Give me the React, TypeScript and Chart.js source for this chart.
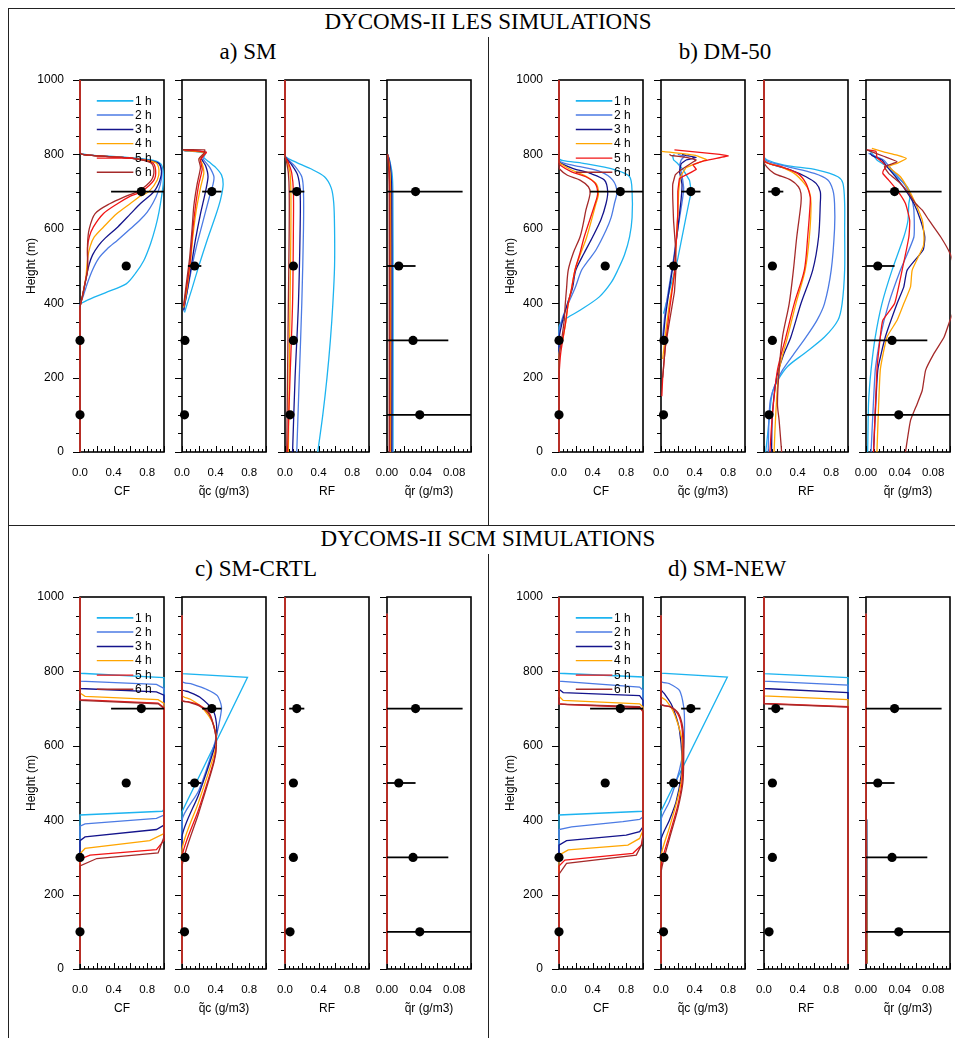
import React, { useEffect, useRef } from 'react';
import { Chart, registerables } from 'chart.js';

Chart.register(...registerables);

type Pt = [number, number]; // [value, height in m]

// ---------------------------------------------------------------- data
const HOUR_LABELS = ['1 h', '2 h', '3 h', '4 h', '5 h', '6 h'];
const Y_TICKS = [0, 200, 400, 600, 800, 1000];
const X_TICKS_UNIT = [0, 0.4, 0.8];
const X_TICKS_QR = [0, 0.04, 0.08];

// observations (mean and spread) at four levels
const OBS_HEIGHTS = [700, 500, 300, 100];
const OBS_CF = [0.73, 0.55, 0, 0];
const OBS_CF_SD = [0.36, 0, 0, 0];
const OBS_QC = [0.355, 0.15, 0.035, 0.03];
const OBS_QC_SD = [0.115, 0.08, 0, 0];
const OBS_RF = [0.14, 0.1, 0.1, 0.06];
const OBS_RF_SD = [0.09, 0, 0, 0];
const OBS_QR = [0.034, 0.014, 0.031, 0.039];
const OBS_QR_SD = [0.056, 0.02, 0.042, 0.066];

// LES, SM microphysics
const LES_SM_CF: Pt[][] = [
  [[0,0],[0,395],[0.06,405],[0.3,428],[0.55,452],[0.66,480],[0.76,515],[0.84,560],[0.9,605],[0.94,645],[0.97,685],[0.99,720],[0.99,755],[0.96,775],[0.85,785],[0.5,793],[0.1,799],[0,806],[0,1000]],
  [[0,0],[0,392],[0.04,420],[0.09,455],[0.15,490],[0.22,520],[0.32,545],[0.45,570],[0.6,600],[0.72,625],[0.8,645],[0.87,670],[0.93,700],[0.97,735],[0.97,760],[0.92,778],[0.6,790],[0.1,798],[0,805],[0,1000]],
  [[0,0],[0,388],[0.03,420],[0.07,465],[0.11,505],[0.15,530],[0.22,555],[0.3,575],[0.45,605],[0.6,640],[0.72,668],[0.88,700],[0.95,730],[0.97,755],[0.93,777],[0.6,790],[0.1,798],[0,805],[0,1000]],
  [[0,0],[0,385],[0.03,420],[0.07,470],[0.09,520],[0.12,552],[0.17,578],[0.28,605],[0.44,641],[0.6,668],[0.72,688],[0.82,700],[0.92,731],[0.94,758],[0.9,778],[0.6,790],[0.1,798],[0,805],[0,1000]],
  [[0,0],[0,385],[0.03,420],[0.07,465],[0.09,490],[0.09,550],[0.11,578],[0.16,605],[0.28,641],[0.45,668],[0.6,688],[0.73,700],[0.88,731],[0.9,758],[0.86,778],[0.6,790],[0.1,798],[0,805],[0,1000]],
  [[0,0],[0,385],[0.03,420],[0.07,465],[0.09,490],[0.09,560],[0.11,600],[0.18,641],[0.36,668],[0.55,688],[0.7,702],[0.85,731],[0.88,758],[0.84,778],[0.6,790],[0.1,798],[0,805],[0,1000]],
];
const LES_SM_QC: Pt[][] = [
  [[0.03,375],[0.12,440],[0.2,500],[0.3,570],[0.4,635],[0.46,680],[0.49,720],[0.47,745],[0.4,765],[0.32,780],[0.26,792],[0.28,803],[0.02,810]],
  [[0.02,378],[0.06,430],[0.12,500],[0.18,560],[0.25,620],[0.32,680],[0.37,720],[0.38,740],[0.33,765],[0.26,785],[0.25,795],[0.28,806],[0.02,811]],
  [[0.02,382],[0.06,430],[0.11,500],[0.16,570],[0.22,640],[0.28,700],[0.31,740],[0.28,770],[0.23,790],[0.27,806],[0.02,811]],
  [[0.02,388],[0.06,440],[0.1,510],[0.13,580],[0.17,650],[0.22,710],[0.26,750],[0.24,775],[0.21,790],[0.27,805],[0.02,811]],
  [[0.02,392],[0.06,450],[0.1,520],[0.13,600],[0.16,660],[0.2,720],[0.24,760],[0.22,785],[0.27,800],[0.29,806],[0.02,812]],
  [[0.02,395],[0.05,450],[0.09,520],[0.12,600],[0.14,660],[0.18,720],[0.22,765],[0.2,788],[0.26,803],[0.27,812],[0.01,813]],
];
const LES_SM_RF: Pt[][] = [
  [[0.39,0],[0.45,100],[0.5,200],[0.54,300],[0.57,400],[0.59,500],[0.59,600],[0.58,670],[0.55,710],[0.47,740],[0.3,762],[0.14,778],[0.03,790],[0,797],[0,1000]],
  [[0.14,0],[0.17,200],[0.2,400],[0.22,600],[0.22,700],[0.2,740],[0.12,768],[0.03,788],[0,797],[0,1000]],
  [[0.09,0],[0.12,200],[0.16,400],[0.18,600],[0.18,700],[0.15,745],[0.08,772],[0.02,788],[0,797],[0,1000]],
  [[0.04,0],[0.05,200],[0.06,400],[0.07,600],[0.07,700],[0.06,750],[0.03,778],[0,797],[0,1000]],
  [[0.03,0],[0.06,200],[0.09,400],[0.1,600],[0.1,700],[0.08,750],[0.04,778],[0,797],[0,1000]],
  [[0.02,0],[0.03,200],[0.04,400],[0.05,600],[0.05,700],[0.04,750],[0.02,778],[0,797],[0,1000]],
];
const LES_SM_QR: Pt[][] = [
  [[0.0072,0],[0.0073,400],[0.007,700],[0.006,750],[0.003,785],[0.0008,800]],
  [[0.0062,0],[0.0064,400],[0.006,700],[0.005,750],[0.0028,785],[0.0008,800]],
  [[0.0056,0],[0.0058,400],[0.0055,700],[0.0046,750],[0.0026,785],[0.0008,800]],
  [[0.0042,0],[0.0044,400],[0.0042,700],[0.0036,750],[0.002,785],[0.0006,800]],
  [[0.0032,0],[0.0034,400],[0.0032,700],[0.0028,750],[0.0016,785],[0.0005,800]],
  [[0.0026,0],[0.0027,400],[0.0026,700],[0.0022,750],[0.0013,785],[0.0004,800]],
];

// LES, DM-50 microphysics
const LES_DM_CF: Pt[][] = [
  [[0,0],[0,335],[0.06,355],[0.25,381],[0.48,417],[0.62,455],[0.7,489],[0.78,530],[0.84,578],[0.87,630],[0.87,700],[0.84,740],[0.68,758],[0.29,776],[0.05,783],[0,790],[0,1000]],
  [[0,0],[0,320],[0.04,360],[0.11,399],[0.19,440],[0.27,489],[0.35,515],[0.44,543],[0.56,596],[0.62,630],[0.66,668],[0.69,700],[0.64,731],[0.5,753],[0.25,767],[0.07,776],[0,785],[0,1000]],
  [[0,0],[0,300],[0.04,350],[0.1,399],[0.16,440],[0.2,489],[0.3,535],[0.4,578],[0.5,625],[0.56,668],[0.58,700],[0.54,731],[0.37,749],[0.17,762],[0.03,775],[0,782],[0,1000]],
  [[0,0],[0,260],[0.05,309],[0.08,350],[0.11,399],[0.15,440],[0.19,489],[0.26,535],[0.33,578],[0.44,668],[0.47,695],[0.44,722],[0.3,744],[0.15,758],[0.02,775],[0,780],[0,1000]],
  [[0,0],[0,200],[0.01,240],[0.02,265],[0.05,309],[0.08,350],[0.11,399],[0.15,440],[0.19,489],[0.25,535],[0.3,578],[0.43,668],[0.46,695],[0.43,722],[0.32,740],[0.15,753],[0.02,770],[0,778],[0,1000]],
  [[0,0],[0,250],[0.03,300],[0.06,350],[0.075,399],[0.09,440],[0.11,489],[0.17,535],[0.25,578],[0.29,615],[0.32,650],[0.37,695],[0.35,713],[0.25,731],[0.1,744],[0.01,760],[0,770],[0,1000]],
];
const LES_DM_QC: Pt[][] = [
  [[0.03,372],[0.12,450],[0.2,520],[0.27,600],[0.33,668],[0.36,700],[0.34,730],[0.26,760],[0.2,775],[0.15,785],[0.14,795],[0.16,800]],
  [[0.02,310],[0.05,380],[0.1,450],[0.15,520],[0.2,600],[0.25,670],[0.27,710],[0.25,745],[0.22,770],[0.24,785],[0.28,795],[0.2,800]],
  [[0.02,290],[0.05,360],[0.1,440],[0.15,510],[0.2,600],[0.24,680],[0.25,720],[0.22,755],[0.24,775],[0.3,785],[0.42,792],[0.3,797],[0.25,800]],
  [[0.02,250],[0.06,330],[0.1,400],[0.16,480],[0.18,560],[0.2,640],[0.21,700],[0.23,740],[0.3,765],[0.54,786],[0.42,797],[0.1,806],[0.01,808]],
  [[0.01,150],[0.02,200],[0.05,280],[0.1,380],[0.16,480],[0.18,560],[0.2,640],[0.2,700],[0.22,735],[0.3,745],[0.42,760],[0.38,772],[0.5,782],[0.8,796],[0.7,800],[0.16,812]],
  [[0.02,200],[0.05,280],[0.1,350],[0.16,430],[0.18,500],[0.17,560],[0.15,620],[0.14,680],[0.14,720],[0.17,745],[0.25,760],[0.35,775],[0.42,785],[0.3,792],[0.12,797],[0.1,800]],
];
const LES_DM_RF: Pt[][] = [
  [[0.02,0],[0.04,40],[0.06,85],[0.1,160],[0.17,195],[0.28,230],[0.48,265],[0.72,309],[0.88,354],[0.93,399],[0.96,489],[0.96,600],[0.96,668],[0.94,722],[0.88,740],[0.64,758],[0.24,771],[0.04,785],[0,795],[0,1000]],
  [[0.05,0],[0.07,130],[0.13,180],[0.22,220],[0.36,265],[0.5,309],[0.63,354],[0.72,399],[0.8,489],[0.84,600],[0.84,668],[0.82,704],[0.76,731],[0.6,749],[0.28,767],[0.06,780],[0,790],[0,1000]],
  [[0.09,0],[0.1,100],[0.15,200],[0.23,260],[0.32,309],[0.44,399],[0.58,489],[0.65,578],[0.67,668],[0.67,700],[0.62,722],[0.5,740],[0.32,758],[0.12,771],[0,785],[0,1000]],
  [[0.12,0],[0.14,100],[0.18,220],[0.28,309],[0.38,399],[0.49,489],[0.54,578],[0.56,668],[0.54,700],[0.48,722],[0.36,749],[0.2,767],[0,785],[0,1000]],
  [[0.07,0],[0.1,100],[0.16,220],[0.26,309],[0.36,399],[0.48,489],[0.52,578],[0.55,668],[0.55,686],[0.5,722],[0.4,749],[0.2,767],[0,785],[0,1000]],
  [[0.21,0],[0.18,85],[0.16,130],[0.18,220],[0.22,309],[0.3,399],[0.35,489],[0.39,578],[0.44,668],[0.44,695],[0.41,713],[0.32,731],[0.12,749],[0.03,767],[0,780],[0,1000]],
];
const LES_DM_QR: Pt[][] = [
  [[0.002,0],[0.003,130],[0.006,220],[0.011,309],[0.019,399],[0.031,489],[0.045,578],[0.05,623],[0.051,668],[0.053,695],[0.049,713],[0.037,740],[0.025,767],[0.013,785],[0.007,803],[0.003,812]],
  [[0.006,0],[0.011,220],[0.017,309],[0.027,399],[0.041,489],[0.057,578],[0.057,650],[0.054,686],[0.045,722],[0.031,758],[0.021,785],[0.008,798],[0.003,803]],
  [[0.009,0],[0.014,220],[0.023,309],[0.037,399],[0.045,444],[0.049,489],[0.068,543],[0.07,578],[0.065,623],[0.057,668],[0.047,704],[0.035,740],[0.025,767],[0.019,785],[0.007,797],[0.005,803]],
  [[0.013,0],[0.017,220],[0.025,309],[0.037,354],[0.045,399],[0.053,444],[0.055,489],[0.068,552],[0.069,578],[0.067,623],[0.059,668],[0.051,704],[0.041,740],[0.027,767],[0.037,776],[0.048,789],[0.037,798],[0.021,807],[0.007,816]],
  [[0.009,0],[0.013,220],[0.017,309],[0.02,354],[0.034,399],[0.043,489],[0.051,578],[0.052,623],[0.047,668],[0.037,704],[0.027,731],[0.02,749],[0.021,758],[0.024,767],[0.019,780],[0.013,792],[0.012,808],[0.001,812]],
  [[0.047,0],[0.053,85],[0.061,130],[0.067,166],[0.071,220],[0.081,265],[0.093,309],[0.1,354],[0.108,400],[0.11,450],[0.105,500],[0.1,534],[0.089,578],[0.075,623],[0.067,650],[0.059,668],[0.051,695],[0.041,722],[0.027,749],[0.022,767],[0.037,780],[0.021,795],[0.001,812]],
];

// SCM, SM-CRTL
const SCM_CRTL_CF: Pt[][] = [
  [[0,15],[0,414],[0.98,424],[1,430],[1,783],[0,795],[0,1000]],
  [[0,15],[0,384],[0.06,390],[0.91,405],[1,414],[1,754],[0.91,765],[0,774],[0,1000]],
  [[0,15],[0,345],[0.06,355],[0.91,375],[1,387],[1,736],[0.91,745],[0,754],[0,1000]],
  [[0,15],[0,310],[0.06,324],[0.83,345],[1,364],[1,714],[0.93,724],[0.06,733],[0,742],[0,1000]],
  [[0,15],[0,295],[0.12,306],[0.91,321],[1,346],[1,703],[0.93,715],[0,724],[0,1000]],
  [[0,15],[0,277],[0.2,297],[0.93,312],[1,355],[1,700],[0.93,713],[0,722],[0,1000]],
];
const SCM_CRTL_QC: Pt[][] = [
  [[0,15],[0,423],[0.78,784],[0,794],[0,950]],
  [[0,15],[0,400],[0.2,480],[0.38,600],[0.45,670],[0.47,705],[0.42,735],[0.29,752],[0.12,766],[0,774],[0,950]],
  [[0,15],[0,355],[0.2,470],[0.38,590],[0.41,625],[0.41,660],[0.37,695],[0.21,731],[0.08,745],[0,752],[0,950]],
  [[0,15],[0,320],[0.2,450],[0.38,575],[0.41,615],[0.37,660],[0.23,705],[0.1,725],[0,736],[0,950]],
  [[0,15],[0,300],[0.2,430],[0.38,560],[0.41,606],[0.39,642],[0.33,686],[0.21,709],[0.08,718],[0,722],[0,950]],
  [[0,15],[0,275],[0.2,420],[0.38,555],[0.41,600],[0.39,642],[0.32,686],[0.2,708],[0.07,718],[0,722],[0,950]],
];
const SCM_CRTL_RF: Pt[][] = [
  [[0,15],[0,1000]],
  [[0,15],[0,1000]],
  [[0,15],[0,1000]],
  [[0,15],[0,1000]],
  [[0,15],[0,1000]],
  [[0,15],[0,1000]],
];
const SCM_CRTL_QR: Pt[][] = [
  [[0,15],[0,955]],
  [[0,15],[0,955]],
  [[0,15],[0,955]],
  [[0,15],[0,955]],
  [[0,15],[0,955]],
  [[0,15],[0,955]],
];

// SCM, SM-NEW
const SCM_NEW_CF: Pt[][] = [
  [[0,15],[0,414],[1,424],[1,785],[0,795],[0,1000]],
  [[0,15],[0,375],[0.15,382],[0.76,396],[0.96,402],[1,409],[1,749],[0.96,758],[0,774],[0,1000]],
  [[0,15],[0,333],[0.09,345],[0.8,360],[0.96,369],[1,382],[1,722],[0.96,735],[0.05,743],[0,752],[0,1000]],
  [[0,15],[0,306],[0.11,320],[0.82,333],[0.96,351],[1,373],[1,704],[0.96,713],[0.05,722],[0,733],[0,1000]],
  [[0,15],[0,277],[0.07,293],[0.88,311],[0.98,333],[1,360],[1,691],[0.96,703],[0.09,711],[0,713],[0,1000]],
  [[0,15],[0,255],[0.09,284],[0.92,306],[0.99,337],[1,360],[1,694],[0.96,705],[0,712],[0,1000]],
];
const SCM_NEW_QC: Pt[][] = [
  [[0,15],[0,424],[0.79,785],[0,795],[0,950]],
  [[0,15],[0,400],[0.1,450],[0.22,535],[0.27,597],[0.28,660],[0.27,705],[0.22,749],[0.1,767],[0,774],[0,950]],
  [[0,15],[0,346],[0.1,400],[0.18,450],[0.24,520],[0.25,570],[0.22,642],[0.18,678],[0.12,713],[0.04,740],[0,752],[0,950]],
  [[0,15],[0,302],[0.1,380],[0.2,460],[0.25,520],[0.25,560],[0.25,615],[0.2,660],[0.14,695],[0.06,722],[0,733],[0,950]],
  [[0,15],[0,275],[0.1,360],[0.2,440],[0.25,500],[0.26,560],[0.26,620],[0.24,660],[0.2,686],[0.12,704],[0,713],[0,950]],
  [[0,15],[0,257],[0.1,350],[0.2,430],[0.26,500],[0.27,560],[0.27,620],[0.25,660],[0.2,690],[0.1,706],[0,712],[0,950]],
];
const SCM_NEW_RF: Pt[][] = [
  [[1,15],[1,783],[0,794],[0,1000]],
  [[1,15],[1,763],[0,774],[0,1000]],
  [[1,15],[1,743],[0,754],[0,1000]],
  [[1,15],[1,724],[0,734],[0,1000]],
  [[1,15],[1,705],[0,714],[0,1000]],
  [[1,15],[1,704],[0,713],[0,1000]],
];
const SCM_NEW_QR: Pt[][] = [
  [[0.0016,15],[0.0009,400],[0.0002,705],[0,720],[0,955]],
  [[0.0014,15],[0.0008,400],[0.0002,700],[0,720],[0,955]],
  [[0.0013,15],[0.0007,400],[0.0002,700],[0,715],[0,955]],
  [[0.0012,15],[0.0006,400],[0.0001,700],[0,715],[0,955]],
  [[0.0011,15],[0.0006,400],[0.0001,690],[0,712],[0,955]],
  [[0.0011,15],[0.0005,400],[0.0001,690],[0,712],[0,955]],
];

// ---------------------------------------------------------------- styling / layout
const HOUR_COLORS = ['#1DB4F0', '#4C7BE4', '#14148C', '#FFA500', '#F21414', '#A52A2A'];
const LEGEND_Z = [944, 906, 867, 829, 790, 752];
const SANS = '"Liberation Sans", Arial, Helvetica, sans-serif';
const SERIF = '"Liberation Serif", "Times New Roman", serif';

const PLOT_W = 84;
const PLOT_H = 372;
const PAD_L = 60;
const PAD_R = 12;
const PAD_T = 10;
const PAD_B = 56;
const PANEL_OFFSETS = [0, 102, 205, 307];

interface VarSpec {
  title: string;
  max: number;
  minor: number;
  ticks: number[];
  decimals: number;
  obs: number[];
  sd: number[];
}

const VARS: VarSpec[] = [
  { title: 'CF', max: 1, minor: 0.05, ticks: X_TICKS_UNIT, decimals: 1, obs: OBS_CF, sd: OBS_CF_SD },
  { title: 'q\u0303c (g/m3)', max: 1, minor: 0.05, ticks: X_TICKS_UNIT, decimals: 1, obs: OBS_QC, sd: OBS_QC_SD },
  { title: 'RF', max: 1, minor: 0.05, ticks: X_TICKS_UNIT, decimals: 1, obs: OBS_RF, sd: OBS_RF_SD },
  { title: 'q\u0303r (g/m3)', max: 0.1, minor: 0.005, ticks: X_TICKS_QR, decimals: 2, obs: OBS_QR, sd: OBS_QR_SD },
];

interface GroupSpec {
  title: string;
  profiles: Pt[][][];
  tension: number[];
  left: number;
  top: number;
  titleX: number;
  titleY: number;
}

const GROUPS: GroupSpec[] = [
  { title: 'a) SM', profiles: [LES_SM_CF, LES_SM_QC, LES_SM_RF, LES_SM_QR], tension: [0.3, 0.2, 0.3, 0.2], left: 80, top: 80, titleX: 248, titleY: 51 },
  { title: 'b) DM-50', profiles: [LES_DM_CF, LES_DM_QC, LES_DM_RF, LES_DM_QR], tension: [0.3, 0.05, 0.3, 0.15], left: 559, top: 80, titleX: 725, titleY: 51 },
  { title: 'c) SM-CRTL', profiles: [SCM_CRTL_CF, SCM_CRTL_QC, SCM_CRTL_RF, SCM_CRTL_QR], tension: [0, 0.25, 0, 0], left: 80, top: 597, titleX: 256, titleY: 568 },
  { title: 'd) SM-NEW', profiles: [SCM_NEW_CF, SCM_NEW_QC, SCM_NEW_RF, SCM_NEW_QR], tension: [0, 0.25, 0, 0], left: 559, top: 597, titleX: 727, titleY: 568 },
];

// Frame, tick marks, labels and the in-panel legend for one profile panel.
function profileAxes(v: VarSpec, showY: boolean, showLegend: boolean) {
  return {
    id: 'profileAxes',
    beforeDatasetsDraw(chart: any) {
      const { ctx, chartArea: a } = chart;
      const xs = chart.scales.x;
      const ys = chart.scales.y;
      ctx.save();
      ctx.strokeStyle = '#000';
      ctx.lineWidth = 1;
      ctx.beginPath();
      for (let z = 0; z <= 1000; z += 50) {
        const py = Math.round(ys.getPixelForValue(z)) + 0.5;
        const len = z % 200 === 0 ? 7 : 4;
        ctx.moveTo(a.left - len, py);
        ctx.lineTo(a.left, py);
      }
      const n = Math.round(v.max / v.minor);
      for (let k = 0; k <= n; k++) {
        const px = Math.round(xs.getPixelForValue(k * v.minor)) + 0.5;
        const len = k % 4 === 0 ? 6 : 3;
        ctx.moveTo(px, a.bottom);
        ctx.lineTo(px, a.bottom - len);
      }
      ctx.stroke();
      ctx.lineWidth = 1.6;
      ctx.strokeRect(a.left, a.top, a.right - a.left, a.bottom - a.top);

      ctx.fillStyle = '#000';
      ctx.textAlign = 'center';
      ctx.textBaseline = 'middle';
      ctx.font = `11.5px ${SANS}`;
      v.ticks.forEach((t) => ctx.fillText(t.toFixed(v.decimals), xs.getPixelForValue(t), a.bottom + 21));
      ctx.font = `12px ${SANS}`;
      ctx.fillText(v.title, (a.left + a.right) / 2, a.bottom + 40);

      if (showY) {
        ctx.textAlign = 'right';
        Y_TICKS.forEach((t) => ctx.fillText(String(t), a.left - 16, ys.getPixelForValue(t)));
        ctx.save();
        ctx.translate(a.left - 48, (a.top + a.bottom) / 2);
        ctx.rotate(-Math.PI / 2);
        ctx.textAlign = 'center';
        ctx.fillText('Height (m)', 0, 0);
        ctx.restore();
      }
      ctx.restore();
    },
    afterDatasetsDraw(chart: any) {
      if (!showLegend) return;
      const { ctx } = chart;
      const xs = chart.scales.x;
      const ys = chart.scales.y;
      ctx.save();
      ctx.font = `12px ${SANS}`;
      ctx.textAlign = 'left';
      ctx.textBaseline = 'middle';
      HOUR_LABELS.forEach((label, i) => {
        const py = ys.getPixelForValue(LEGEND_Z[i]);
        ctx.strokeStyle = HOUR_COLORS[i];
        ctx.lineWidth = i === 0 ? 1.8 : 1.4;
        ctx.beginPath();
        ctx.moveTo(xs.getPixelForValue(0.2), py);
        ctx.lineTo(xs.getPixelForValue(0.635), py);
        ctx.stroke();
        ctx.fillStyle = '#000';
        ctx.fillText(label, xs.getPixelForValue(0.655), py + 0.5);
      });
      ctx.restore();
    },
  };
}

interface PanelProps {
  left: number;
  top: number;
  v: VarSpec;
  profiles: Pt[][];
  tension: number;
  first: boolean;
}

function ProfilePanel({ left, top, v, profiles, tension, first }: PanelProps) {
  const ref = useRef<HTMLCanvasElement>(null);
  const w = PLOT_W + PAD_L + PAD_R;
  const h = PLOT_H + PAD_T + PAD_B;

  useEffect(() => {
    if (!ref.current) return;
    const datasets: any[] = [];
    datasets.push({
      data: OBS_HEIGHTS.map((z, i) => ({ x: v.obs[i], y: z })),
      showLine: false,
      pointRadius: 4.6,
      pointBackgroundColor: '#000',
      pointBorderColor: '#000',
      pointBorderWidth: 0,
      clip: false,
      order: 0,
    });
    OBS_HEIGHTS.forEach((z, i) => {
      if (v.sd[i] <= 0) return;
      datasets.push({
        data: [
          { x: Math.max(0, v.obs[i] - v.sd[i]), y: z },
          { x: v.obs[i] + v.sd[i], y: z },
        ],
        showLine: true,
        borderColor: '#000',
        borderWidth: 1.8,
        pointRadius: 0,
        clip: 0,
        order: 1,
      });
    });
    profiles.forEach((p, i) => {
      datasets.push({
        label: HOUR_LABELS[i],
        data: p.map(([x, y]) => ({ x, y })),
        showLine: true,
        borderColor: HOUR_COLORS[i],
        borderWidth: 1.3,
        pointRadius: 0,
        // short, piecewise-linear profiles keep their sharp corners
        tension: p.length > 5 ? tension : 0,
        clip: 1.5,
        order: 20 - i,
      });
    });

    const chart = new Chart(ref.current, {
      type: 'scatter',
      data: { datasets },
      options: {
        animation: false,
        responsive: false,
        devicePixelRatio: 1,
        events: [],
        layout: { padding: { left: PAD_L, right: PAD_R, top: PAD_T, bottom: PAD_B } },
        scales: {
          x: { type: 'linear', min: 0, max: v.max, display: false },
          y: { type: 'linear', min: 0, max: 1000, display: false },
        },
        plugins: { legend: { display: false }, tooltip: { enabled: false } },
      },
      plugins: [profileAxes(v, first, first)],
    } as any);
    return () => chart.destroy();
  }, []);

  return (
    <canvas
      ref={ref}
      width={w}
      height={h}
      style={{ position: 'absolute', left: left - PAD_L, top: top - PAD_T, width: w, height: h }}
    />
  );
}

function Title({ x, y, text }: { x: number; y: number; text: string }) {
  return (
    <div
      style={{
        position: 'absolute',
        left: x,
        top: y,
        transform: 'translate(-50%, -50%)',
        fontFamily: SERIF,
        fontSize: 23,
        whiteSpace: 'nowrap',
        lineHeight: 1,
        color: '#000',
      }}
    >
      {text}
    </div>
  );
}

function Rule({ x, y, w, h }: { x: number; y: number; w: number; h: number }) {
  return <div style={{ position: 'absolute', left: x, top: y, width: w, height: h, background: '#222' }} />;
}

export default function App() {
  return (
    <div style={{ position: 'absolute', left: 0, top: 0, width: 955, height: 1038, overflow: 'hidden', background: '#fff' }}>
      <Rule x={8} y={8} w={947} h={1} />
      <Rule x={8} y={8} w={1} h={1030} />
      <Rule x={8} y={525} w={947} h={1} />
      <Rule x={488} y={37} w={1} h={488} />
      <Rule x={488} y={554} w={1} h={484} />
      <Title x={488} y={21} text="DYCOMS-II LES SIMULATIONS" />
      <Title x={488} y={538} text="DYCOMS-II SCM SIMULATIONS" />
      {GROUPS.map((g) => (
        <React.Fragment key={g.title}>
          <Title x={g.titleX} y={g.titleY} text={g.title} />
          {VARS.map((v, k) => (
            <ProfilePanel
              key={v.title}
              left={g.left + PANEL_OFFSETS[k]}
              top={g.top}
              v={v}
              profiles={g.profiles[k]}
              tension={g.tension[k]}
              first={k === 0}
            />
          ))}
        </React.Fragment>
      ))}
    </div>
  );
}
